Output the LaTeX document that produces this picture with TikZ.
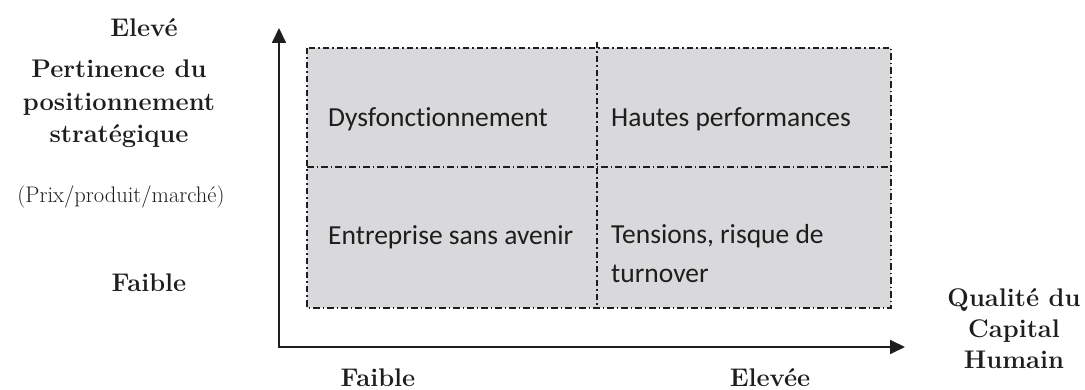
\documentclass[tikz,border=0pt]{standalone}
\usepackage{fontspec}
\newfontfamily\calibri[Ligatures=NoCommon]{Carlito}
\usetikzlibrary{arrows.meta}
\definecolor{cellgray}{RGB}{217,217,219}
\definecolor{inkc}{RGB}{30,30,30}
\begin{document}
\begin{tikzpicture}[x=1pt,y=-1pt,
  axisline/.style={line width=1.8pt, draw=inkc,
    {Triangle[length=15pt,width=14pt]}-{Triangle[length=15pt,width=14pt]}},
  gridline/.style={line width=1.3pt, draw=inkc,
    dash pattern=on 6.5pt off 3pt on 1.5pt off 3pt},
  celltext/.style={font=\calibri\fontsize{27.5}{39}\selectfont,
    anchor=base west, inner sep=0pt, align=left, text=inkc},
  axlabel/.style={font=\bfseries\fontsize{25.5}{32.5}\selectfont,
    inner sep=0pt, align=center, text=inkc},
  sublabel/.style={font=\fontsize{22.5}{26}\selectfont,
    inner sep=0pt, text=inkc}]
\useasboundingbox (0,0) rectangle (1085,390);

% quadrant area
\fill[cellgray] (307,48) rectangle (891,308);
\draw[gridline] (307,48) rectangle (891,308);
\draw[gridline] (597,42) -- (597,308);
\draw[gridline] (307,167) -- (891,167);

% axes
\coordinate (ytip) at (279,28);
\coordinate (O) at (279,347);
\coordinate (xtip) at (905,347);
\draw[axisline] (ytip) -- (O) -- (xtip);

% quadrant texts
\node[celltext] (dys) at (328,127) {Dysfonctionnement};
\node[celltext] (hp) at (611,127) {Hautes performances};
\node[celltext] (esa) at (328,245) {Entreprise sans avenir};
\node[celltext] (trt) at (611,283) {Tensions, risque de\\turnover};

% vertical axis labels
\node[axlabel, anchor=base] (yhigh) at (144,37) {Elevé};
\node[axlabel, anchor=base] (ytitle) at (119,143) {Pertinence du\\positionnement\\stratégique};
\node[sublabel, anchor=base] (ysub) at (121,203) {(Prix/produit/marché)};
\node[axlabel, anchor=base] (ylow) at (149,292) {Faible};

% horizontal axis labels
\node[axlabel, anchor=base] (xlow) at (378,386.5) {Faible};
\node[axlabel, anchor=base] (xhigh) at (770,386.5) {Elevée};
\node[axlabel, anchor=base, font=\bfseries\fontsize{25.5}{31}\selectfont] (xtitle) at (1014,368) {Qualité du\\Capital\\Humain};
\end{tikzpicture}
\end{document}
